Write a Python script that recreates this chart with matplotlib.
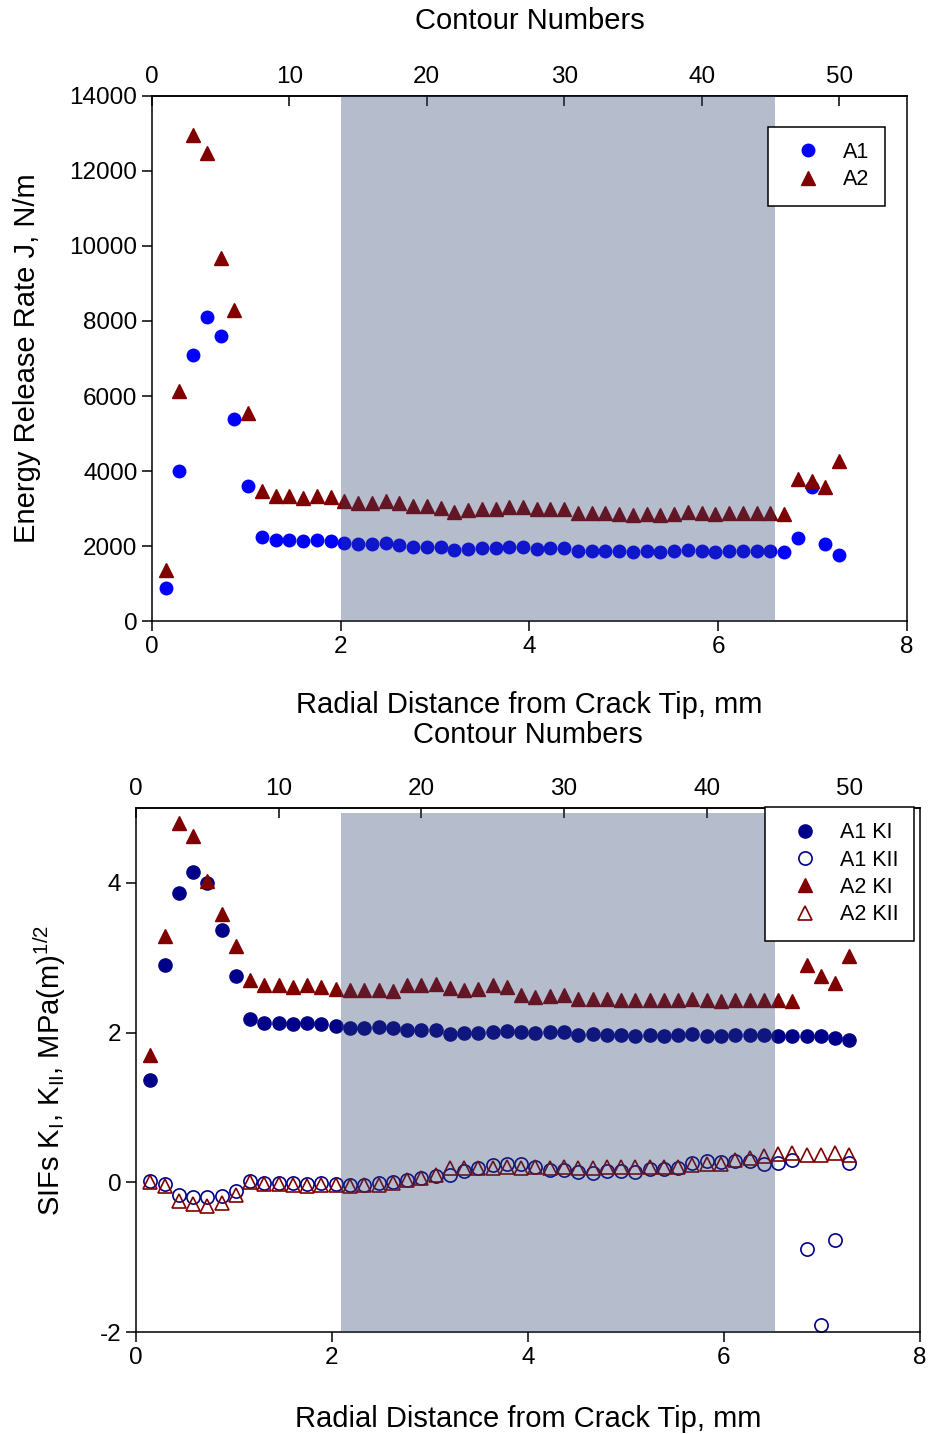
import numpy as np
import matplotlib
matplotlib.use("Agg")
import matplotlib.pyplot as plt

plt.rcParams['font.family'] = ['Liberation Sans', 'DejaVu Sans']
plt.rcParams['mathtext.fontset'] = 'custom'
plt.rcParams['mathtext.rm'] = 'Liberation Sans'
plt.rcParams['axes.unicode_minus'] = False

# contour numbers and radial spacing (mm per contour)
contour = np.arange(1, 51)
dr = 0.1456
r = contour * dr

# top panel: energy release rate J, N/m
J_A1 = [880, 4000, 7100, 8100, 7600, 5400, 3600, 2250, 2170, 2170,
        2130, 2170, 2130, 2070, 2050, 2050, 2070, 2040, 1980, 1980,
        1970, 1900, 1910, 1940, 1960, 1980, 1970, 1930, 1960, 1950,
        1880, 1880, 1875, 1860, 1840, 1860, 1840, 1860, 1885, 1860,
        1850, 1860, 1865, 1860, 1860, 1850, 2220, 3580, 2060, 1760]
J_A2 = [1370, 6130, 12950, 12480, 9680, 8300, 5560, 3470, 3330, 3330,
        3290, 3340, 3300, 3210, 3160, 3160, 3210, 3150, 3070, 3070,
        3020, 2920, 2950, 2980, 3000, 3050, 3030, 2980, 3000, 3000,
        2880, 2890, 2880, 2850, 2820, 2850, 2840, 2860, 2900, 2870,
        2860, 2880, 2890, 2870, 2880, 2845, 3800, 3740, 3580, 4280]

# bottom panel: SIFs
KI_A1 = [1.37, 2.90, 3.87, 4.14, 4.00, 3.37, 2.76, 2.18, 2.135, 2.13,
         2.11, 2.13, 2.11, 2.085, 2.065, 2.065, 2.075, 2.065, 2.03, 2.03,
         2.03, 1.98, 1.99, 2.00, 2.005, 2.02, 2.015, 1.99, 2.005, 2.005,
         1.97, 1.975, 1.97, 1.965, 1.96, 1.97, 1.96, 1.97, 1.975, 1.96,
         1.96, 1.97, 1.97, 1.97, 1.96, 1.955, 1.955, 1.96, 1.925, 1.905]
KII_A1 = [0.02, -0.02, -0.165, -0.19, -0.20, -0.18, -0.11, 0.02, -0.005, -0.005,
          -0.01, -0.02, -0.01, -0.02, -0.04, -0.03, -0.01, 0.0, 0.035, 0.06,
          0.09, 0.10, 0.15, 0.19, 0.23, 0.245, 0.25, 0.21, 0.17, 0.17,
          0.135, 0.125, 0.15, 0.147, 0.143, 0.18, 0.18, 0.194, 0.258, 0.28,
          0.27, 0.28, 0.28, 0.25, 0.258, 0.305, -0.89, -1.90, -0.77, 0.258]
KI_A2 = [1.70, 3.29, 4.80, 4.63, 4.03, 3.58, 3.16, 2.70, 2.64, 2.64,
         2.61, 2.64, 2.61, 2.585, 2.563, 2.563, 2.576, 2.554, 2.634, 2.634,
         2.652, 2.60, 2.567, 2.585, 2.63, 2.607, 2.50, 2.473, 2.487, 2.496,
         2.447, 2.45, 2.45, 2.435, 2.43, 2.44, 2.43, 2.437, 2.45, 2.43,
         2.425, 2.435, 2.435, 2.435, 2.435, 2.42, 2.91, 2.75, 2.66, 3.02]
KII_A2 = [0.01, -0.05, -0.25, -0.285, -0.31, -0.27, -0.17, 0.0, -0.02, -0.02,
          -0.03, -0.05, -0.03, -0.03, -0.05, -0.04, -0.03, -0.01, 0.03, 0.06,
          0.10, 0.19, 0.19, 0.19, 0.19, 0.21, 0.19, 0.205, 0.19, 0.205,
          0.19, 0.19, 0.20, 0.21, 0.20, 0.21, 0.21, 0.20, 0.23, 0.25,
          0.25, 0.30, 0.32, 0.35, 0.38, 0.39, 0.36, 0.36, 0.39, 0.37]

shade_top = (2.0, 6.6)
shade_bot = (2.09, 6.52)

shade_col = '#2D416C'
blue = '#0000FF'
navy = '#000088'
red = '#800000'


def mm2n(x):
    return x / dr


def n2mm(n):
    return n * dr


def style(ax):
    for s in ax.spines.values():
        s.set_linewidth(1.1)
    ax.tick_params(axis='both', direction='out', length=7, width=1.1,
                   labelsize=17.5, top=False, right=False)
    sec = ax.secondary_xaxis('top', functions=(mm2n, n2mm))
    sec.set_xticks([0, 10, 20, 30, 40, 50])
    sec.tick_params(direction='in', length=7, width=1.1, labelsize=17.5, pad=6)
    sec.spines['top'].set_linewidth(1.1)
    return sec


def legend(ax, anchor):
    leg = ax.legend(loc='upper left', bbox_to_anchor=anchor, fontsize=15.5,
                    frameon=True, fancybox=False, edgecolor='black', framealpha=1,
                    borderaxespad=0, handletextpad=0.5, borderpad=0.7,
                    labelspacing=0.3, handlelength=2.3)
    leg.get_frame().set_linewidth(1.1)
    leg.set_zorder(5)
    return leg


fig = plt.figure(figsize=(9.3, 14.34), dpi=100)

# ---- top panel ----
ax1 = fig.add_axes([0.1634, 0.5669, 0.8119, 0.3662])
ax1.plot(r, J_A1, 'o', color=blue, ms=9, ls='none', label='A1', zorder=2)
ax1.plot(r, J_A2, '^', color=red, ms=10.5, ls='none', label='A2', zorder=2)
ax1.axvspan(*shade_top, color=shade_col, alpha=0.35, lw=0, zorder=3)
ax1.set_xlim(0, 8)
ax1.set_ylim(0, 14000)
ax1.set_xticks([0, 2, 4, 6, 8])
ax1.set_yticks(range(0, 14001, 2000))
sec1 = style(ax1)
ax1.set_xlabel('Radial Distance from Crack Tip, mm', fontsize=21, labelpad=24)
ax1.set_ylabel('Energy Release Rate J, N/m', fontsize=21, labelpad=20.5)
sec1.set_xlabel('Contour Numbers', fontsize=21, labelpad=26)
legend(ax1, (0.816, 0.941))

# ---- bottom panel ----
ax2 = fig.add_axes([0.1462, 0.0711, 0.8430, 0.3654])
ax2.plot(r, KI_A1, 'o', color=navy, ms=9.5, ls='none', label='A1 KI', zorder=2)
ax2.plot(r, KII_A1, 'o', color=navy, mfc='none', mew=1.2, ms=9.5, ls='none',
         label='A1 KII', zorder=2)
ax2.plot(r, KI_A2, '^', color=red, ms=10.5, ls='none', label='A2 KI', zorder=2)
ax2.plot(r, KII_A2, '^', color=red, mfc='none', mew=1.2, ms=10.5, ls='none',
         label='A2 KII', zorder=2)
ax2.axvspan(*shade_bot, ymax=0.99, color=shade_col, alpha=0.35, lw=0, zorder=3)
ax2.set_xlim(0, 8)
ax2.set_ylim(-2, 5)
ax2.set_xticks([0, 2, 4, 6, 8])
ax2.set_yticks([-2, 0, 2, 4])
sec2 = style(ax2)
ax2.set_xlabel('Radial Distance from Crack Tip, mm', fontsize=21, labelpad=26)
ax2.set_ylabel(r'SIFs K$_{\mathregular{I}}$, K$_{\mathregular{II}}$, MPa(m)$^{\mathregular{1/2}}$',
               fontsize=21, labelpad=23)
sec2.set_xlabel('Contour Numbers', fontsize=21, labelpad=25)
legend(ax2, (0.802, 1.002))

fig.savefig('out.png', dpi=100)
